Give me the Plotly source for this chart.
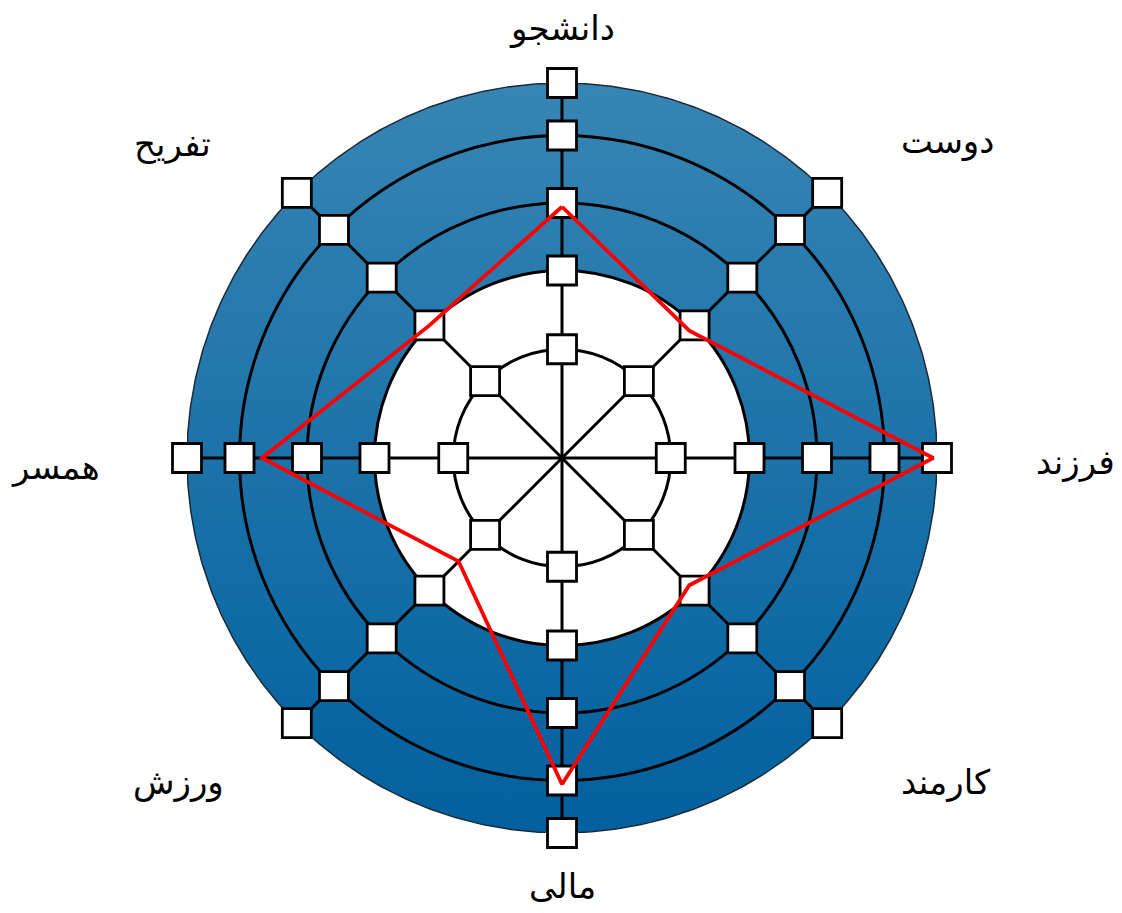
import numpy as np
import plotly.graph_objects as go

# ---- data ----
categories = ["دانشجو", "دوست", "فرزند", "کارمند", "مالی", "ورزش", "همسر", "تفریح"]
angles = [0, 45, 90, 135, 180, 225, 270, 315]
ring_levels = [2.9, 5.0, 6.8, 8.6, 10.0]
inner_disk_level = 5.0
scores = [6.7, 4.8, 9.9, 4.8, 8.7, 3.9, 8.0, 5.0]

# label placement (page-pixel anchor points) and horizontal anchors
label_px = [(562, 29), (947, 141), (1117, 463), (946, 782),
            (562, 886), (178, 782), (55, 467), (172, 144)]
label_xanchor = ["center", "center", "right", "center",
                 "center", "center", "center", "center"]

PAGE_OFF = 8  # default body margin of the html page
W, H = 1114, 905
L, R, T, B = 179, 185, 75, 80
R_MAX = ring_levels[-1]

TOP_BLUE = "#3785b4"
BOTTOM_BLUE = "#01609e"

fig = go.Figure()

# gradient disk (cartesian overlay aligned with polar)
t = np.linspace(0, 2 * np.pi, 721)
fig.add_trace(go.Scatter(
    x=R_MAX * np.cos(t), y=R_MAX * np.sin(t), mode="lines",
    line=dict(color="#1b2a36", width=1.5), fill="toself",
    fillgradient=dict(type="vertical",
                      colorscale=[[0, BOTTOM_BLUE], [1, TOP_BLUE]]),
    hoverinfo="skip", showlegend=False, xaxis="x", yaxis="y"))
# white inner disk
fig.add_trace(go.Scatter(
    x=inner_disk_level * np.cos(t), y=inner_disk_level * np.sin(t),
    mode="lines", line=dict(color="white", width=0), fill="toself",
    fillcolor="white", hoverinfo="skip", showlegend=False,
    xaxis="x", yaxis="y"))

# square nodes
node_r, node_t = [], []
for a in angles:
    for lv in ring_levels:
        node_r.append(lv)
        node_t.append(a)
fig.add_trace(go.Scatterpolar(
    r=node_r, theta=node_t, mode="markers",
    marker=dict(symbol="square", size=29, color="white",
                line=dict(color="black", width=2.8)),
    cliponaxis=False, hoverinfo="skip", showlegend=False))

# red polygon
fig.add_trace(go.Scatterpolar(
    r=scores + [scores[0]], theta=angles + [angles[0]], mode="lines",
    line=dict(color="#ff0000", width=3.8), cliponaxis=False,
    showlegend=False))

pw, ph = W - L - R, H - T - B
annotations = []
for name, (px, py), xa in zip(categories, label_px, label_xanchor):
    fx = px - PAGE_OFF
    fy = py - PAGE_OFF
    annotations.append(dict(
        text=name, x=(fx - L) / pw, y=(H - B - fy) / ph,
        xref="paper", yref="paper", xanchor=xa, yanchor="middle",
        showarrow=False, font=dict(family="DejaVu Sans", size=34, color="black")))

fig.update_layout(
    width=W, height=H,
    margin=dict(l=L, r=R, t=T, b=B),
    paper_bgcolor="white", plot_bgcolor="white",
    xaxis=dict(domain=[0, 1], range=[-R_MAX, R_MAX], visible=False, fixedrange=True),
    yaxis=dict(domain=[0, 1], range=[-R_MAX, R_MAX], visible=False, fixedrange=True),
    polar=dict(
        domain=dict(x=[0, 1], y=[0, 1]),
        bgcolor="rgba(0,0,0,0)",
        radialaxis=dict(range=[0, R_MAX], tickvals=ring_levels[:-1],
                        showticklabels=False, ticks="", showline=False,
                        gridcolor="black", gridwidth=2.8),
        angularaxis=dict(direction="clockwise", rotation=90,
                         tickvals=angles, showticklabels=False, ticks="",
                         gridcolor="black", gridwidth=2.8, showline=False),
    ),
    annotations=annotations,
    showlegend=False,
)

fig.write_html("out.html")
